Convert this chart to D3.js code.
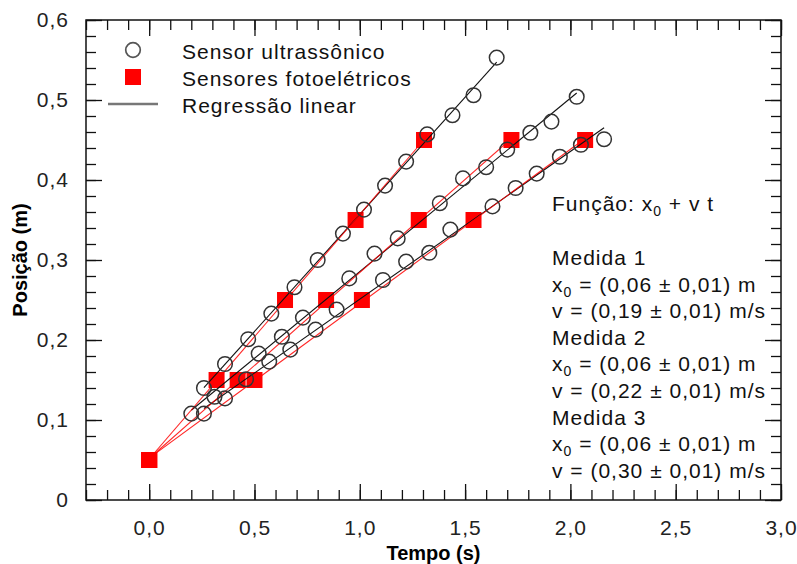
<!DOCTYPE html>
<html>
<head>
<meta charset="utf-8">
<script src="https://cdn.jsdelivr.net/npm/d3@7"></script>
<style>
  body { margin: 0; background: #fff; }
  text { font-family: 'Liberation Sans', Arial, sans-serif; }
</style>
</head>
<body>
<div class="chart"></div>
<script>
// ultrasonic sensor readings (circles), one pair of arrays per measurement
let us1Time = [0.26, 0.36, 0.46, 0.57, 0.67, 0.79, 0.89, 1.11, 1.22, 1.33, 1.43, 1.63, 1.74, 1.84, 1.95, 2.05, 2.16];
let us1Pos  = [0.108, 0.127, 0.151, 0.173, 0.188, 0.213, 0.238, 0.275, 0.298, 0.309, 0.338, 0.367, 0.390, 0.408, 0.429, 0.444, 0.451];

let us2Time = [0.20, 0.31, 0.52, 0.63, 0.73, 0.95, 1.07, 1.18, 1.38, 1.49, 1.60, 1.70, 1.81, 1.91, 2.03];
let us2Pos  = [0.108, 0.129, 0.183, 0.204, 0.228, 0.277, 0.308, 0.327, 0.371, 0.402, 0.416, 0.438, 0.459, 0.473, 0.504];

let us3Time = [0.26, 0.36, 0.47, 0.58, 0.69, 0.80, 0.92, 1.02, 1.12, 1.22, 1.32, 1.44, 1.54, 1.65];
let us3Pos  = [0.140, 0.170, 0.201, 0.233, 0.266, 0.300, 0.333, 0.363, 0.393, 0.423, 0.457, 0.481, 0.506, 0.553];

// photoelectric sensors (squares)
let pe1Time = [0, 0.50, 1.01, 1.54, 2.07];
let pe2Time = [0, 0.42, 0.84, 1.28, 1.72];
let pe3Time = [0, 0.32, 0.645, 0.98, 1.305];
let pePos   = [0.05, 0.15, 0.25, 0.35, 0.45];

let xTickValues = [0, 0.5, 1, 1.5, 2, 2.5, 3];
let xTickLabels = ["0,0", "0,5", "1,0", "1,5", "2,0", "2,5", "3,0"];
let yTickValues = [0, 0.1, 0.2, 0.3, 0.4, 0.5, 0.6];
let yTickLabels = ["0", "0,1", "0,2", "0,3", "0,4", "0,5", "0,6"];

let legendLabels = ["Sensor ultrassônico", "Sensores fotoelétricos", "Regressão linear"];

let resultLines = [
    ["Medida 1", "(0,06 ± 0,01) m", "(0,19 ± 0,01) m/s"],
    ["Medida 2", "(0,06 ± 0,01) m", "(0,22 ± 0,01) m/s"],
    ["Medida 3", "(0,06 ± 0,01) m", "(0,30 ± 0,01) m/s"]
];

let chart = {};

function zipPoints(ts, ps) {
    return ts.map((t, i) => ({ t: t, p: ps[i] }));
}

// least squares fit, used for the regression lines
function fit(points) {
    let mt = d3.mean(points, d => d.t), mp = d3.mean(points, d => d.p);
    let num = d3.sum(points, d => (d.t - mt) * (d.p - mp));
    let den = d3.sum(points, d => (d.t - mt) * (d.t - mt));
    let v = num / den;
    return { v: v, x0: mp - v * mt };
}

function init() {
    chart.ultra = [zipPoints(us1Time, us1Pos), zipPoints(us2Time, us2Pos), zipPoints(us3Time, us3Pos)];
    chart.photo = [zipPoints(pe1Time, pePos), zipPoints(pe2Time, pePos), zipPoints(pe3Time, pePos)];

    chart.width = 797;
    chart.height = 564;

    chart.x = d3.scaleLinear().domain([-0.3, 3.0]).range([86, 781]);
    chart.y = d3.scaleLinear().domain([0, 0.6]).range([500, 20]);

    chart.svg = d3.select(".chart").append("svg")
        .attr("width", chart.width)
        .attr("height", chart.height);

    chart.svg.append("rect")
        .attr("width", chart.width).attr("height", chart.height)
        .attr("fill", "#fff");

    drawAxes();
    drawData();
    drawLegend();
    drawNotes();
}

function drawAxes() {
    let x = chart.x, y = chart.y;
    let xMinor = d3.range(-3, 31).map(i => i / 10);
    let yMinor = d3.range(0, 31).map(i => i / 50);

    let styleAxis = g => {
        g.select(".domain").remove();
        g.selectAll("line").attr("stroke", "#111").attr("stroke-width", 1.3);
        g.selectAll("text").attr("font-size", 21).attr("fill", "#222")
            .attr("letter-spacing", 1)
            .attr("font-family", "'Liberation Sans', Arial, sans-serif");
    };

    // bottom
    chart.svg.append("g").attr("transform", "translate(0,500)")
        .call(d3.axisBottom(x).tickValues(xMinor).tickSize(-10).tickFormat(""))
        .call(styleAxis);
    chart.svg.append("g").attr("transform", "translate(0,500)")
        .call(d3.axisBottom(x).tickValues(xTickValues).tickSize(-16).tickPadding(20)
            .tickFormat((d, i) => xTickLabels[i]))
        .call(styleAxis);

    // top
    chart.svg.append("g").attr("transform", "translate(0,20)")
        .call(d3.axisTop(x).tickValues(xMinor).tickSize(-10).tickFormat(""))
        .call(styleAxis);
    chart.svg.append("g").attr("transform", "translate(0,20)")
        .call(d3.axisTop(x).tickValues(xTickValues).tickSize(-16).tickFormat(""))
        .call(styleAxis);

    // left
    chart.svg.append("g").attr("transform", "translate(86,0)")
        .call(d3.axisLeft(y).tickValues(yMinor).tickSize(-10).tickFormat(""))
        .call(styleAxis);
    chart.svg.append("g").attr("transform", "translate(86,0)")
        .call(d3.axisLeft(y).tickValues(yTickValues).tickSize(-16).tickPadding(17)
            .tickFormat((d, i) => yTickLabels[i]))
        .call(styleAxis);

    // right
    chart.svg.append("g").attr("transform", "translate(781,0)")
        .call(d3.axisRight(y).tickValues(yMinor).tickSize(-10).tickFormat(""))
        .call(styleAxis);
    chart.svg.append("g").attr("transform", "translate(781,0)")
        .call(d3.axisRight(y).tickValues(yTickValues).tickSize(-16).tickFormat(""))
        .call(styleAxis);

    chart.svg.append("rect")
        .attr("x", x(-0.3)).attr("y", y(0.6))
        .attr("width", x(3) - x(-0.3)).attr("height", y(0) - y(0.6))
        .attr("fill", "none").attr("stroke", "#111").attr("stroke-width", 1.5);

    chart.svg.append("text")
        .attr("x", (x(-0.3) + x(3)) / 2).attr("y", 560)
        .attr("text-anchor", "middle")
        .attr("font-family", "'DejaVu Sans', sans-serif")
        .attr("font-size", 20).attr("font-weight", "bold")
        .text("Tempo (s)");

    chart.svg.append("text")
        .attr("transform", `translate(27,${(y(0) + y(0.6)) / 2}) rotate(-90)`)
        .attr("text-anchor", "middle")
        .attr("font-family", "'DejaVu Sans', sans-serif")
        .attr("font-size", 20).attr("font-weight", "bold")
        .text("Posição (m)");
}

function drawData() {
    let x = chart.x, y = chart.y;
    let line = d3.line().x(d => x(d.t)).y(d => y(d.p));

    // photoelectric squares
    chart.photo.forEach(pts => {
        chart.svg.append("g").selectAll("rect")
            .data(pts).enter().append("rect")
            .attr("x", d => x(d.t) - 8).attr("y", d => y(d.p) - 8)
            .attr("width", 16).attr("height", 16)
            .attr("fill", "#ff0000");
    });

    // regression for ultrasonic (black)
    chart.ultra.forEach(pts => {
        let f = fit(pts);
        let t0 = d3.min(pts, d => d.t), t1 = d3.max(pts, d => d.t);
        chart.svg.append("path")
            .attr("d", line([{ t: t0, p: f.x0 + f.v * t0 }, { t: t1, p: f.x0 + f.v * t1 }]))
            .attr("fill", "none").attr("stroke", "#111").attr("stroke-width", 1.1);
    });

    // regression for photoelectric (red)
    chart.photo.forEach(pts => {
        let f = fit(pts);
        let t0 = d3.min(pts, d => d.t), t1 = d3.max(pts, d => d.t);
        chart.svg.append("path")
            .attr("d", line([{ t: t0, p: f.x0 + f.v * t0 }, { t: t1, p: f.x0 + f.v * t1 }]))
            .attr("fill", "none").attr("stroke", "#ff0000").attr("stroke-width", 1.1)
            .attr("stroke-opacity", 0.85);
    });

    // ultrasonic circles
    chart.ultra.forEach(pts => {
        chart.svg.append("g").selectAll("circle")
            .data(pts).enter().append("circle")
            .attr("cx", d => x(d.t)).attr("cy", d => y(d.p))
            .attr("r", 7.3)
            .attr("fill", "none").attr("stroke", "#333").attr("stroke-width", 1.5);
    });
}

function drawLegend() {
    let rows = [50, 77, 104];
    let lg = chart.svg.append("g");

    lg.append("circle").attr("cx", 133).attr("cy", rows[0]).attr("r", 7.3)
        .attr("fill", "none").attr("stroke", "#555").attr("stroke-width", 1.7);
    lg.append("rect").attr("x", 125).attr("y", rows[1] - 8).attr("width", 16).attr("height", 16)
        .attr("fill", "#ff0000");
    lg.append("line").attr("x1", 108).attr("x2", 158).attr("y1", rows[2]).attr("y2", rows[2])
        .attr("stroke", "#777").attr("stroke-width", 2.5);

    lg.selectAll("text").data(legendLabels).enter().append("text")
        .attr("x", 182).attr("y", (d, i) => rows[i] + 8.5)
        .attr("font-size", 21).attr("letter-spacing", 1).attr("fill", "#111")
        .text(d => d);
}

function drawNotes() {
    let nx = 552;
    let g = chart.svg.append("g").attr("font-size", 21).attr("letter-spacing", 1).attr("fill", "#111");

    let f = g.append("text").attr("x", nx).attr("y", 211);
    f.append("tspan").text("Função: x");
    f.append("tspan").attr("font-size", 14).attr("dy", 5).text("0");
    f.append("tspan").attr("dy", -5).text(" + v t");

    let base = 265, step = 26.6;
    resultLines.forEach((r, i) => {
        let y0 = base + i * 3 * step;
        g.append("text").attr("x", nx).attr("y", y0).text(r[0]);

        let t = g.append("text").attr("x", nx).attr("y", y0 + step);
        t.append("tspan").text("x");
        t.append("tspan").attr("font-size", 14).attr("dy", 5).text("0");
        t.append("tspan").attr("dy", -5).text(" = " + r[1]);

        g.append("text").attr("x", nx).attr("y", y0 + 2 * step).text("v = " + r[2]);
    });
}

init();
</script>
</body>
</html>
